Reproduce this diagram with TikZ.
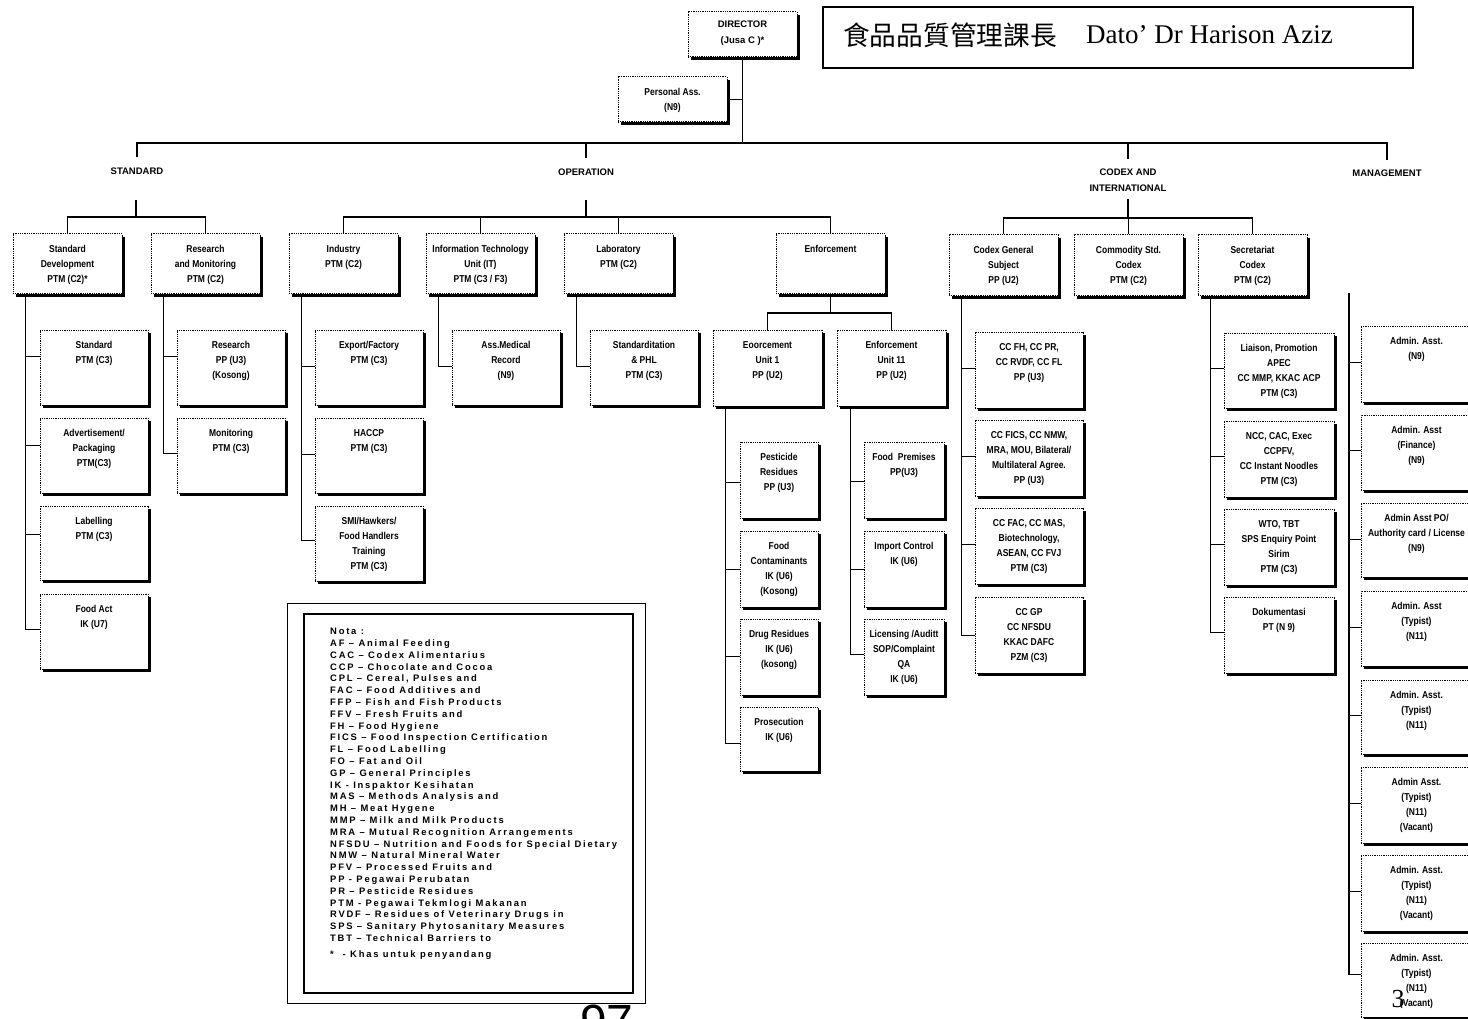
\documentclass[tikz,border=0pt]{standalone}
\usepackage{fontspec}
\setmainfont{Liberation Serif}
\newfontfamily\boxfont[FakeStretch=0.85]{Liberation Sans}
\newfontfamily\hdrfont{Liberation Sans}
\newfontfamily\notefont[LetterSpace=19]{Liberation Sans}
\newfontfamily\cjkfont{Noto Sans CJK TC}
\usetikzlibrary{fit,shadows}

\tikzset{
  conn/.style={draw=black, line width=1.4pt},
  orgbox/.style={draw=black, line width=1pt, dash pattern=on 1pt off 0.8pt,
    fill=white, inner sep=0pt,
    drop shadow={shadow xshift=3pt, shadow yshift=-3pt, fill=black, opacity=1}},
  boxtext/.style={font=\boxfont\bfseries\fontsize{10}{15}\selectfont, align=center,
    anchor=north, inner sep=0pt},
  hdrtext/.style={font=\hdrfont\bfseries\fontsize{9.5}{16}\selectfont, align=center,
    inner sep=0pt},
  frame/.style={draw=black, inner sep=0pt},
}

% a dotted post box with its caption near the top
\newcommand{\ubox}[6]{%
  \node[orgbox, fit={(#2,#3) (#4,#5)}] (#1) {};
  \node[boxtext] (#1t) at ([yshift=-11.5pt]#1.north) {#6};}
% short link from a box's left side back to its spine
\newcommand{\tie}[3]{\draw[conn] ([yshift=-#2pt]#1.north west) -- ++(-#3,0);}

\begin{document}
\begin{tikzpicture}[x=1pt,y=-1pt]
\useasboundingbox (0,0) rectangle (1468,1019);
\fill[white] (0,0) rectangle (1468,1019);

% ---------- top ----------
\node[orgbox, fit={(688,12) (797,57)}] (dir) {};
\node[hdrtext, anchor=north] (dirt) at ([yshift=-9pt]dir.north) {DIRECTOR\\(Jusa C )*};
\ubox{pa}{618}{77}{727}{122}{Personal Ass.\\(N9)}

\node[frame, line width=1.1pt, fit={(823,7) (1413,68)}] (title) {};
\node[anchor=west, inner sep=0pt, font=\cjkfont\fontsize{26.7}{30}\selectfont] (tcjk) at (843,35) {食品品質管理課長};
\node[anchor=base west, inner sep=0pt, font=\fontsize{27}{30}\selectfont] (tname) at (1086,44) {Dato’ Dr Harison Aziz};

% ---------- division headings ----------
\node[hdrtext] (hstd) at (137,171) {STANDARD};
\node[hdrtext] (hop) at (586,172) {OPERATION};
\node[hdrtext] (hcx) at (1128,180) {CODEX AND\\INTERNATIONAL};
\node[hdrtext] (hmg) at (1387,173) {MANAGEMENT};

\coordinate (j0) at (742,143);
\draw[conn] (dir.south) -- (dir.south |- j0);
\draw[conn] (pa.east) -- (pa.east -| dir.south);
\draw[conn] ([yshift=10pt]hstd.north) |- (j0) -| ([yshift=9pt]hmg.north);
\draw[conn] (hop.north |- j0) -- ([yshift=10pt]hop.north);
\draw[conn] (hcx.north |- j0) -- ([yshift=9pt]hcx.north);

% ---------- STANDARD ----------
\ubox{sd}{13}{234}{122}{294}{Standard\\Development\\PTM (C2)*}
\ubox{rm}{151}{234}{260}{294}{Research\\and Monitoring\\PTM (C2)}
\coordinate (sbar) at (136,217);
\draw[conn] (sbar) -- ++(0,-17);
\draw[conn] (sd.north) |- (sbar) -| (rm.north);

\ubox{sd1}{40}{330}{148}{405}{Standard\\PTM (C3)}
\ubox{sd2}{40}{418}{148}{493}{Advertisement/\\Packaging\\PTM(C3)}
\ubox{sd3}{40}{506}{148}{580}{Labelling\\PTM (C3)}
\ubox{sd4}{40}{594}{148}{669}{Food Act\\IK (U7)}
\draw[conn] ([xshift=13pt]sd.south west) |- ([yshift=-36pt]sd4.north west);
\tie{sd1}{27}{14} \tie{sd2}{28}{14} \tie{sd3}{29}{14}

\ubox{rm1}{177}{330}{285}{405}{Research\\PP (U3)\\(Kosong)}
\ubox{rm2}{177}{418}{285}{493}{Monitoring\\PTM (C3)}
\draw[conn] ([xshift=13pt]rm.south west) |- ([yshift=-36pt]rm2.north west);
\tie{rm1}{27}{13}

% ---------- OPERATION ----------
\ubox{ind}{289}{234}{398}{294}{Industry\\PTM (C2)}
\ubox{it}{426}{234}{535}{294}{Information Technology\\Unit (IT)\\PTM (C3 / F3)}
\ubox{lab}{564}{234}{673}{294}{Laboratory\\PTM (C2)}
\ubox{enf}{776}{234}{885}{294}{Enforcement}
\coordinate (obar) at (586,217);
\draw[conn] (obar) -- ++(0,-17);
\draw[conn] (ind.north) |- (obar) -| (enf.north);
\draw[conn] (it.north) -- (it.north |- obar);
\draw[conn] (lab.north) -- (lab.north |- obar);

\ubox{ind1}{315}{330}{423}{405}{Export/Factory\\PTM (C3)}
\ubox{ind2}{315}{418}{423}{493}{HACCP\\PTM (C3)}
\ubox{ind3}{315}{506}{423}{581}{SMI/Hawkers/\\Food Handlers\\Training\\PTM (C3)}
\draw[conn] ([xshift=13pt]ind.south west) |- ([yshift=-35pt]ind3.north west);
\tie{ind1}{37}{13} \tie{ind2}{37}{13}

\ubox{it1}{452}{330}{560}{405}{Ass.Medical\\Record\\(N9)}
\draw[conn] ([xshift=13pt]it.south west) |- ([yshift=-37pt]it1.north west);
\ubox{lab1}{590}{330}{698}{405}{Standarditation\\\& PHL\\PTM (C3)}
\draw[conn] ([xshift=13pt]lab.south west) |- ([yshift=-37pt]lab1.north west);

% enforcement units
\ubox{eu1}{713}{330}{822}{406}{Eoorcement\\Unit 1\\PP (U2)}
\ubox{eu2}{837}{330}{946}{406}{Enforcement\\Unit 11\\PP (U2)}
\coordinate (ebar) at (830.5,313);
\draw[conn] (enf.south) -- (enf.south |- ebar);
\draw[conn] (eu1.north) |- (ebar) -| (eu2.north);

\ubox{e11}{740}{442}{818}{518}{Pesticide\\Residues\\PP (U3)}
\ubox{e12}{740}{531}{818}{607}{Food\\Contaminants\\IK (U6)\\(Kosong)}
\ubox{e13}{740}{619}{818}{695}{Drug Residues\\IK (U6)\\(kosong)}
\ubox{e14}{740}{707}{818}{771}{Prosecution\\IK (U6)}
\draw[conn] ([xshift=13pt]eu1.south west) |- ([yshift=-37pt]e14.north west);
\tie{e11}{41}{14} \tie{e12}{39}{14} \tie{e13}{38}{14}

\ubox{e21}{864}{442}{944}{518}{Food~~Premises\\PP(U3)}
\ubox{e22}{864}{531}{944}{607}{Import Control\\IK (U6)}
\ubox{e23}{864}{619}{944}{695}{Licensing /Auditt\\SOP/Complaint\\QA\\IK (U6)}
\draw[conn] ([xshift=14pt]eu2.south west) |- ([yshift=-36pt]e23.north west);
\tie{e21}{40}{13} \tie{e22}{39}{13}

% ---------- CODEX AND INTERNATIONAL ----------
\ubox{cg}{949}{235}{1058}{296}{Codex General\\Subject\\PP (U2)}
\ubox{cs}{1074}{235}{1183}{296}{Commodity Std.\\Codex\\PTM (C2)}
\ubox{sc}{1198}{235}{1307}{296}{Secretariat\\Codex\\PTM (C2)}
\coordinate (cbar) at (1128,218);
\draw[conn] (cbar) -- ++(0,-19);
\draw[conn] (cg.north) |- (cbar) -| (sc.north);
\draw[conn] (cs.north) -- (cs.north |- cbar);

\ubox{c1}{975}{332}{1083}{408}{CC FH, CC PR,\\CC RVDF, CC FL\\PP (U3)}
\ubox{c2}{975}{420}{1083}{496}{CC FICS, CC NMW,\\MRA, MOU, Bilateral/\\Multilateral Agree.\\PP (U3)}
\ubox{c3}{975}{508}{1083}{584}{CC FAC, CC MAS,\\Biotechnology,\\ASEAN, CC FVJ\\PTM (C3)}
\ubox{c4}{975}{597}{1083}{673}{CC GP\\CC NFSDU\\KKAC DAFC\\PZM (C3)}
\draw[conn] ([xshift=13pt]cg.south west) |- ([yshift=-39pt]c4.north west);
\tie{c1}{37}{13} \tie{c2}{37}{13} \tie{c3}{37}{13}

\ubox{s1}{1224}{333}{1334}{408}{Liaison, Promotion\\APEC\\CC MMP, KKAC ACP\\PTM (C3)}
\ubox{s2}{1224}{421}{1334}{497}{NCC, CAC, Exec\\CCPFV,\\CC Instant Noodles\\PTM (C3)}
\ubox{s3}{1224}{509}{1334}{585}{WTO, TBT\\SPS Enquiry Point\\Sirim\\PTM (C3)}
\ubox{s4}{1224}{597}{1334}{673}{Dokumentasi\\PT (N 9)}
\draw[conn] ([xshift=13pt]sc.south west) |- ([yshift=-36pt]s4.north west);
\tie{s1}{36}{13} \tie{s2}{36}{13} \tie{s3}{36}{13}

% ---------- MANAGEMENT ----------
\ubox{m1}{1361}{326}{1472}{402}{Admin. Asst.\\(N9)}
\ubox{m2}{1361}{415}{1472}{490}{Admin. Asst\\(Finance)\\(N9)}
\ubox{m3}{1361}{503}{1472}{577}{Admin Asst PO/\\Authority card / License\\(N9)}
\ubox{m4}{1361}{591}{1472}{666}{Admin. Asst\\(Typist)\\(N11)}
\ubox{m5}{1361}{680}{1472}{754}{Admin. Asst.\\(Typist)\\(N11)}
\ubox{m6}{1361}{767}{1472}{843}{Admin Asst.\\(Typist)\\(N11)\\(Vacant)}
\ubox{m7}{1361}{855}{1472}{931}{Admin. Asst.\\(Typist)\\(N11)\\(Vacant)}
\ubox{m8}{1361}{943}{1472}{1017}{Admin. Asst.\\(Typist)\\(N11)\\(Vacant)}
\coordinate (mtop) at (1349,293);
\draw[conn] (mtop) |- ([yshift=-32pt]m8.north west);
\tie{m1}{37}{12} \tie{m2}{36}{12} \tie{m3}{37}{12} \tie{m4}{37}{12}
\tie{m5}{36}{12} \tie{m6}{37}{12} \tie{m7}{37}{12}
\node[inner sep=0pt, font=\fontsize{26}{26}\selectfont] (pn) at (1398,999) {3};

% ---------- abbreviations ----------
\node[frame, line width=0.6pt, fit={(287,603) (645,1003)}] (notaout) {};
\node[frame, line width=1.3pt, fit={(304,614) (633,993)}] (notain) {};
\node[anchor=north west, inner sep=0pt, align=left,
      font=\notefont\bfseries\fontsize{9.4}{11.8}\selectfont] (nota) at (330,628) {%
Nota :\\
AF – Animal Feeding\\
CAC – Codex Alimentarius\\
CCP – Chocolate and Cocoa\\
CPL – Cereal, Pulses and\\
FAC – Food Additives and\\
FFP – Fish and Fish Products\\
FFV – Fresh Fruits and\\
FH – Food Hygiene\\
FICS – Food Inspection Certification\\
FL – Food Labelling\\
FO – Fat and Oil\\
GP – General Principles\\
IK - Inspaktor Kesihatan\\
MAS – Methods Analysis and\\
MH – Meat Hygene\\
MMP – Milk and Milk Products\\
MRA – Mutual Recognition Arrangements\\
NFSDU – Nutrition and Foods for Special Dietary\\
NMW – Natural Mineral Water\\
PFV – Processed Fruits and\\
PP - Pegawai Perubatan\\
PR – Pesticide Residues\\
PTM - Pegawai Tekmlogi Makanan\\
RVDF – Residues of Veterinary Drugs in\\
SPS – Sanitary Phytosanitary Measures\\
TBT – Technical Barriers to\\[4pt]
*~ - Khas untuk penyandang};
\node[anchor=north, inner sep=0pt, font=\hdrfont\fontsize{48}{48}\selectfont] (pg) at (607,1005) {97};
\end{tikzpicture}
\end{document}
